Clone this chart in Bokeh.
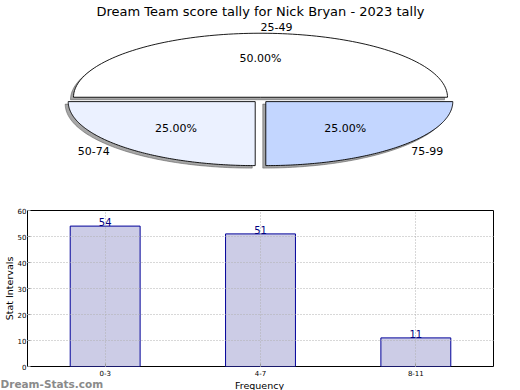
import numpy as np
from bokeh.plotting import figure
from bokeh.models import Range1d, FactorRange, Label, ColumnDataSource
from bokeh.core.properties import value
from bokeh.embed import file_html
from bokeh.resources import INLINE

# ---- data ----
title_text = "Dream Team score tally for Nick Bryan - 2023 tally"
pie_labels = ["25-49", "50-74", "75-99"]
pie_shares = [50, 25, 25]
pie_explode = [0.04, 0.04, 0.04]
pie_colors = ["#ffffff", "#ebf1ff", "#c3d6ff"]

bar_cats = ["0-3", "4-7", "8-11"]
bar_vals = [54, 51, 11]
y_ticks = [0, 10, 20, 30, 40, 50, 60]
y_title = "Stat Intervals"
x_title = "Frequency"
watermark = "Dream-Stats.com"

FONT = "DejaVu Sans"

W = 520
H1 = 200          # pie strip
H3 = 12           # bottom strip (x title + watermark)
H2 = 390 - H1 - H3

# ---- pie (page-pixel data space) ----
pie = figure(width=W, height=H1, x_range=Range1d(0, W), y_range=Range1d(H1, 0),
             output_backend="svg", toolbar_location=None, title=None, min_border=0,
             x_axis_location=None, y_axis_location=None)
pie.grid.visible = False
pie.outline_line_color = None

cx, cy, a, b = 260.0, 99.3, 187.0, 64.0
total = float(sum(pie_shares))
start = 0.0
shadow_dx, shadow_dy = -3.0, 2.5
lab_x, lab_y, lab_t, lab_align = [], [], [], []
pct_x, pct_y, pct_t = [], [], []
for lab, share, ex, col in zip(pie_labels, pie_shares, pie_explode, pie_colors):
    frac = share / total
    t0 = 2 * np.pi * start
    t1 = 2 * np.pi * (start + frac)
    mid = (t0 + t1) / 2
    ox = cx + ex * a * np.cos(mid)
    oy = cy - ex * b * np.sin(mid)
    ts = np.linspace(t0, t1, 120)
    xs = np.concatenate([[ox], ox + a * np.cos(ts), [ox]])
    ys = np.concatenate([[oy], oy - b * np.sin(ts), [oy]])
    pie.patch(xs + shadow_dx, ys + shadow_dy, fill_color="#4d4d4d", fill_alpha=0.5,
              line_color="#4d4d4d", line_alpha=0.5, line_width=1)
    pie.patch(xs, ys, fill_color=col, line_color="black", line_width=0.9)
    lx = ox + 1.1 * a * np.cos(mid)
    ly = oy - 1.1 * b * np.sin(mid)
    lab_x.append(lx); lab_y.append(ly); lab_t.append(lab)
    lab_align.append("left" if np.cos(mid) > 0 else "right")
    pct_x.append(ox + 0.6 * a * np.cos(mid))
    pct_y.append(oy - 0.6 * b * np.sin(mid))
    pct_t.append("%.2f%%" % (100 * frac))
    start += frac

pie.text(x=lab_x, y=lab_y, text=lab_t, text_align=lab_align, text_baseline="middle",
         text_font=value(FONT), text_font_size="11px", text_color="black")
pie.text(x=pct_x, y=pct_y, text=pct_t, text_align="center", text_baseline="middle",
         text_font=value(FONT), text_font_size="11px", text_color="black")
pie.add_layout(Label(x=260, y=10.5, text=title_text, text_align="center", text_baseline="middle",
                     text_font=FONT, text_font_size="13px", text_color="black"))

# ---- bar chart ----
p = figure(width=W, height=H2, x_range=FactorRange(*bar_cats), y_range=Range1d(0, 60),
           output_backend="svg", toolbar_location=None, title=None,
           min_border_left=25, min_border_right=27, min_border_top=10, min_border_bottom=11)
p.outline_line_color = "black"
p.outline_line_width = 1

src = ColumnDataSource(dict(x=bar_cats, top=bar_vals, lab=[str(v) for v in bar_vals]))
p.vbar(x="x", top="top", width=0.45, source=src, fill_color="#ccccE6",
       line_color="#000099", line_width=1)
p.text(x="x", y="top", text="lab", source=src, text_align="center", text_baseline="bottom",
       y_offset=0, text_font=value(FONT), text_font_size="10px", text_color="#000080")

for g in (p.xgrid, p.ygrid):
    g.grid_line_color = "#b0b0b0"
    g.grid_line_dash = "1 2"
    g.grid_line_width = 1
    g.level = "overlay"
p.yaxis.ticker = y_ticks

for ax in (p.xaxis, p.yaxis):
    ax.axis_line_color = None
    ax.major_tick_in = 3
    ax.major_tick_out = 0
    ax.minor_tick_line_color = None
    ax.major_tick_line_color = "#999999"
    ax.major_label_text_font = FONT
    ax.major_label_text_font_size = "7px"
    ax.major_label_text_color = "black"
p.yaxis.major_label_standoff = 1
p.xaxis.major_label_standoff = 3
p.yaxis.axis_label = y_title
p.yaxis.axis_label_text_font = FONT
p.yaxis.axis_label_text_font_size = "9.5px"
p.yaxis.axis_label_text_font_style = "normal"
p.yaxis.axis_label_text_color = "black"
p.yaxis.axis_label_standoff = 0

# ---- bottom strip: x-axis title and watermark ----
foot = figure(width=W, height=H3, x_range=Range1d(0, W), y_range=Range1d(H3, 0),
              output_backend="svg", toolbar_location=None, title=None, min_border=0,
              x_axis_location=None, y_axis_location=None)
foot.grid.visible = False
foot.outline_line_color = None
foot.text(x=[259], y=[1], text=[x_title], text_align="center", text_baseline="top",
          text_font=value(FONT), text_font_size="9.5px", text_color="black")
foot.text(x=[0], y=[5], text=[watermark], text_align="left", text_baseline="middle",
          text_font=value(FONT), text_font_size="10.5px", text_font_style="bold",
          text_color="#8a8a8a")

open("out.html", "w").write(file_html([pie, p, foot], INLINE))
